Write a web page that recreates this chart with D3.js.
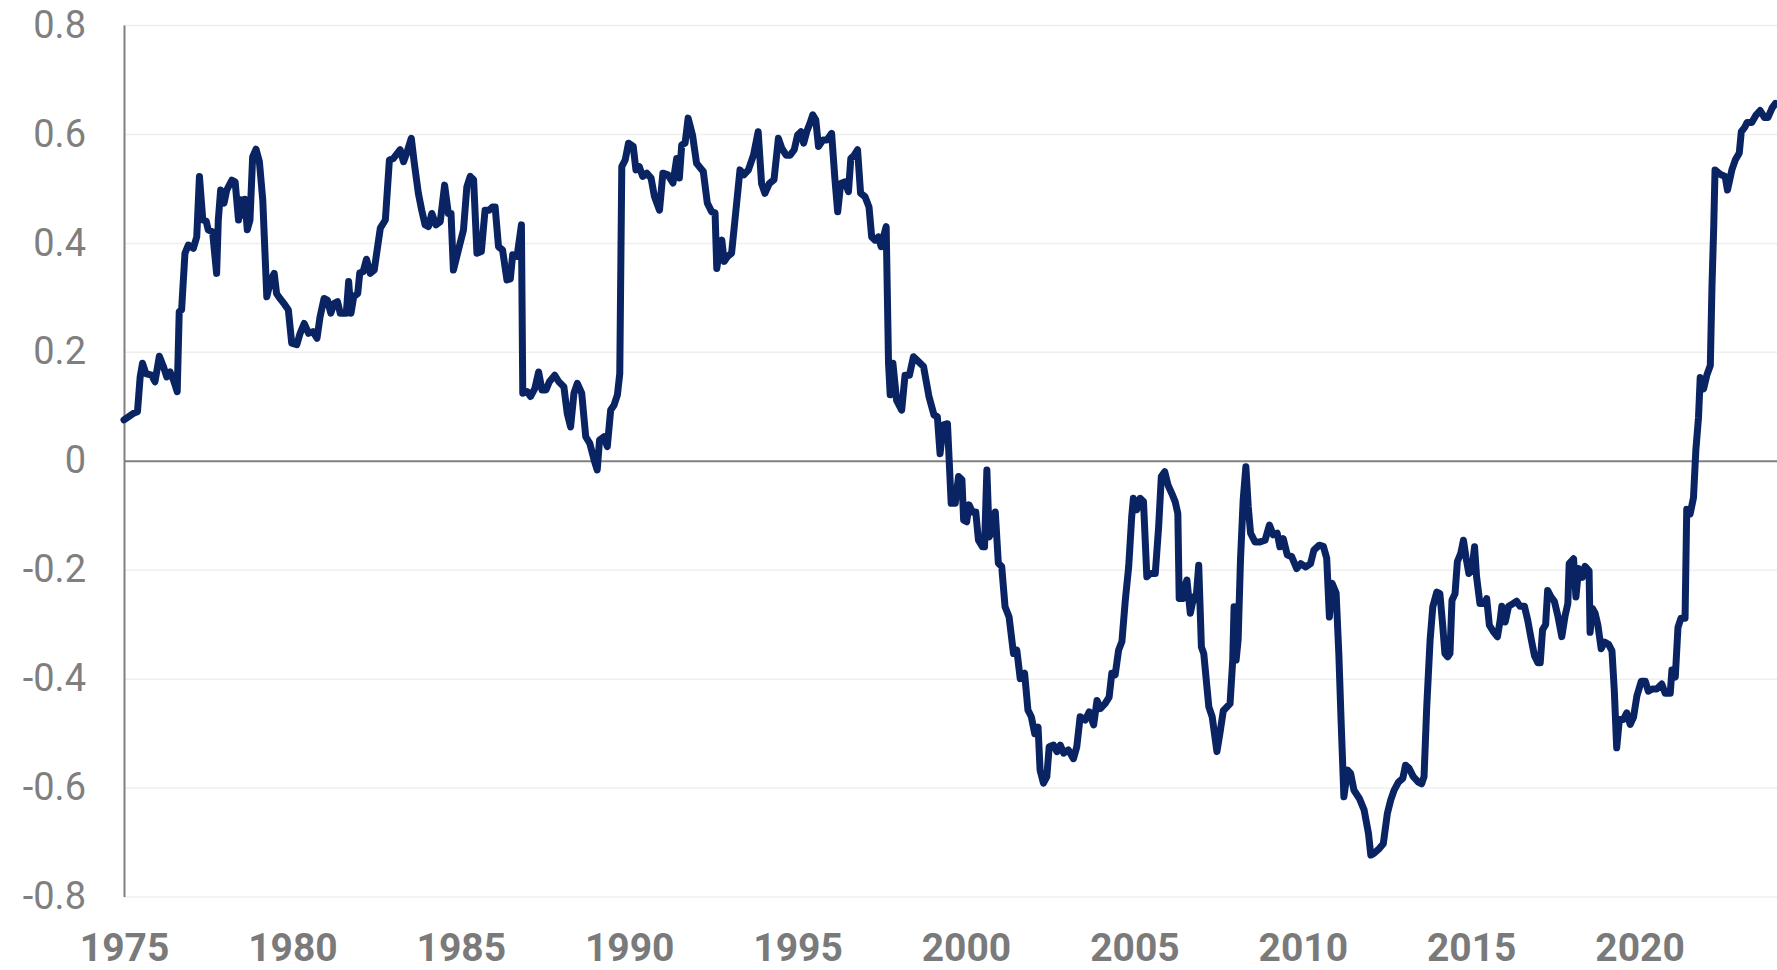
<!DOCTYPE html>
<html>
<head>
<meta charset="utf-8">
<script src="https://cdn.jsdelivr.net/npm/d3@7"></script>
<style>
    body { margin: 0; background: #ffffff; }
    svg { display: block; }
</style>
</head>
<body>
<svg id="chart"></svg>
<script>
var chartWidth = 1777,
    chartHeight = 970,
    plotLeft = 124,
    plotRight = 1777,
    plotTop = 25,
    plotBottom = 896.5;

// tick labels
var yearTicks = [1975, 1980, 1985, 1990, 1995, 2000, 2005, 2010, 2015, 2020];
var valueTicks = [-0.8, -0.6, -0.4, -0.2, 0, 0.2, 0.4, 0.6, 0.8];

// [year, value], one array per decade
var data1970s = [
    [1975.00, 0.075], [1975.28, 0.087], [1975.40, 0.090], [1975.48, 0.154], [1975.55, 0.179],
    [1975.65, 0.160], [1975.82, 0.157], [1975.92, 0.145], [1976.05, 0.192], [1976.17, 0.173],
    [1976.27, 0.154], [1976.37, 0.163], [1976.47, 0.148], [1976.58, 0.127], [1976.64, 0.274],
    [1976.71, 0.277], [1976.81, 0.381], [1976.91, 0.396], [1977.06, 0.390], [1977.16, 0.411],
    [1977.24, 0.522], [1977.34, 0.442], [1977.44, 0.440], [1977.50, 0.424], [1977.63, 0.420],
    [1977.75, 0.344], [1977.80, 0.442], [1977.87, 0.497], [1977.97, 0.473], [1978.05, 0.497],
    [1978.20, 0.515], [1978.30, 0.512], [1978.40, 0.442], [1978.47, 0.479], [1978.55, 0.451],
    [1978.59, 0.480], [1978.66, 0.424], [1978.74, 0.442], [1978.82, 0.558], [1978.92, 0.572],
    [1979.02, 0.549], [1979.12, 0.479], [1979.24, 0.301], [1979.36, 0.332], [1979.46, 0.344],
    [1979.53, 0.307], [1979.63, 0.298], [1979.78, 0.286], [1979.88, 0.277], [1979.98, 0.216]
];

var data1980s = [
    [1980.13, 0.213], [1980.23, 0.234], [1980.35, 0.252], [1980.48, 0.234], [1980.61, 0.237],
    [1980.73, 0.225], [1980.82, 0.264], [1980.94, 0.298], [1981.04, 0.295], [1981.14, 0.271],
    [1981.24, 0.289], [1981.34, 0.292], [1981.42, 0.271], [1981.52, 0.271], [1981.60, 0.271],
    [1981.67, 0.329], [1981.74, 0.271], [1981.82, 0.301], [1981.94, 0.307], [1982.00, 0.345],
    [1982.10, 0.347], [1982.20, 0.370], [1982.31, 0.344], [1982.43, 0.350], [1982.53, 0.393],
    [1982.61, 0.427], [1982.76, 0.442], [1982.88, 0.552], [1983.00, 0.555], [1983.20, 0.571],
    [1983.30, 0.549], [1983.40, 0.566], [1983.53, 0.592], [1983.62, 0.546], [1983.74, 0.491],
    [1983.84, 0.460], [1983.94, 0.433], [1984.04, 0.430], [1984.14, 0.454], [1984.26, 0.433],
    [1984.39, 0.439], [1984.52, 0.506], [1984.63, 0.454], [1984.71, 0.454], [1984.78, 0.350],
    [1984.93, 0.387], [1985.08, 0.424], [1985.18, 0.503], [1985.28, 0.522], [1985.38, 0.516],
    [1985.48, 0.381], [1985.61, 0.384], [1985.72, 0.460], [1985.84, 0.460], [1985.94, 0.466],
    [1986.02, 0.466], [1986.12, 0.393], [1986.24, 0.387], [1986.37, 0.332], [1986.47, 0.334],
    [1986.54, 0.378], [1986.67, 0.375], [1986.80, 0.433], [1986.84, 0.124], [1986.97, 0.127],
    [1987.07, 0.118], [1987.20, 0.133], [1987.31, 0.163], [1987.41, 0.130], [1987.53, 0.130],
    [1987.63, 0.145], [1987.79, 0.157], [1987.91, 0.145], [1988.06, 0.136], [1988.16, 0.087],
    [1988.26, 0.062], [1988.36, 0.124], [1988.46, 0.142], [1988.59, 0.124], [1988.71, 0.044],
    [1988.83, 0.032], [1988.96, 0.001], [1989.05, -0.017], [1989.12, 0.038], [1989.25, 0.044],
    [1989.35, 0.026], [1989.45, 0.093], [1989.55, 0.102], [1989.65, 0.121], [1989.72, 0.160],
    [1989.78, 0.540], [1989.88, 0.552], [1989.98, 0.583]
];

var data1990s = [
    [1990.12, 0.577], [1990.20, 0.534], [1990.30, 0.540], [1990.40, 0.522], [1990.52, 0.528],
    [1990.65, 0.519], [1990.75, 0.485], [1990.90, 0.460], [1991.00, 0.528], [1991.15, 0.525],
    [1991.30, 0.510], [1991.41, 0.555], [1991.49, 0.519], [1991.56, 0.580], [1991.66, 0.583],
    [1991.75, 0.629], [1991.88, 0.598], [1992.00, 0.546], [1992.12, 0.537], [1992.20, 0.531],
    [1992.32, 0.473], [1992.45, 0.457], [1992.55, 0.455], [1992.60, 0.353], [1992.68, 0.387],
    [1992.75, 0.405], [1992.82, 0.366], [1992.92, 0.375], [1993.04, 0.381], [1993.14, 0.442],
    [1993.29, 0.534], [1993.41, 0.525], [1993.54, 0.534], [1993.69, 0.561], [1993.83, 0.604],
    [1993.93, 0.509], [1994.03, 0.491], [1994.16, 0.509], [1994.30, 0.516], [1994.43, 0.592],
    [1994.53, 0.574], [1994.66, 0.561], [1994.78, 0.561], [1994.90, 0.571], [1995.00, 0.598],
    [1995.10, 0.604], [1995.18, 0.583], [1995.27, 0.604], [1995.37, 0.620], [1995.45, 0.635],
    [1995.54, 0.626], [1995.62, 0.577], [1995.75, 0.589], [1995.87, 0.589], [1996.01, 0.601],
    [1996.11, 0.516], [1996.19, 0.457], [1996.28, 0.509], [1996.41, 0.512], [1996.51, 0.494],
    [1996.58, 0.555], [1996.68, 0.561], [1996.78, 0.571], [1996.87, 0.491], [1997.00, 0.485],
    [1997.12, 0.466], [1997.20, 0.411], [1997.30, 0.405], [1997.40, 0.411], [1997.48, 0.393],
    [1997.55, 0.411], [1997.63, 0.430], [1997.70, 0.179], [1997.75, 0.121], [1997.83, 0.179],
    [1997.94, 0.111], [1998.09, 0.093], [1998.19, 0.157], [1998.32, 0.157], [1998.44, 0.191],
    [1998.59, 0.182], [1998.74, 0.173], [1998.90, 0.118], [1999.05, 0.084], [1999.15, 0.081],
    [1999.23, 0.013], [1999.33, 0.066], [1999.45, 0.068], [1999.56, -0.078], [1999.68, -0.078],
    [1999.78, -0.029], [1999.88, -0.035], [1999.93, -0.109]
];

var data2000s = [
    [2000.02, -0.112], [2000.09, -0.081], [2000.19, -0.094], [2000.29, -0.094], [2000.37, -0.146],
    [2000.49, -0.158], [2000.55, -0.158], [2000.62, -0.017], [2000.69, -0.140], [2000.77, -0.128],
    [2000.87, -0.094], [2000.96, -0.188], [2001.06, -0.194], [2001.16, -0.268], [2001.28, -0.287],
    [2001.41, -0.354], [2001.51, -0.348], [2001.61, -0.400], [2001.74, -0.390], [2001.84, -0.458],
    [2001.94, -0.470], [2002.04, -0.501], [2002.14, -0.489], [2002.20, -0.568], [2002.30, -0.592],
    [2002.40, -0.580], [2002.47, -0.525], [2002.60, -0.522], [2002.70, -0.534], [2002.80, -0.522],
    [2002.90, -0.537], [2003.04, -0.531], [2003.19, -0.547], [2003.29, -0.525], [2003.39, -0.470],
    [2003.54, -0.476], [2003.66, -0.461], [2003.79, -0.485], [2003.89, -0.440], [2003.99, -0.455],
    [2004.13, -0.446], [2004.25, -0.434], [2004.33, -0.390], [2004.43, -0.393], [2004.53, -0.348],
    [2004.63, -0.332], [2004.73, -0.256], [2004.83, -0.195], [2004.92, -0.103], [2004.97, -0.069],
    [2005.07, -0.090], [2005.17, -0.069], [2005.27, -0.075], [2005.37, -0.213], [2005.47, -0.207],
    [2005.62, -0.207], [2005.72, -0.121], [2005.80, -0.029], [2005.90, -0.020], [2006.00, -0.045],
    [2006.11, -0.060], [2006.21, -0.075], [2006.29, -0.097], [2006.33, -0.253], [2006.43, -0.253],
    [2006.49, -0.231], [2006.56, -0.219], [2006.66, -0.280], [2006.76, -0.250], [2006.83, -0.255],
    [2006.91, -0.192], [2006.99, -0.342], [2007.06, -0.354], [2007.21, -0.452], [2007.31, -0.470],
    [2007.45, -0.534], [2007.54, -0.500], [2007.64, -0.459], [2007.84, -0.446], [2007.92, -0.366],
    [2007.96, -0.268], [2008.02, -0.366], [2008.08, -0.329], [2008.15, -0.182], [2008.23, -0.072],
    [2008.31, -0.011], [2008.38, -0.084], [2008.45, -0.133], [2008.58, -0.149], [2008.73, -0.149],
    [2008.88, -0.146], [2009.01, -0.118], [2009.12, -0.136], [2009.24, -0.133], [2009.32, -0.158],
    [2009.42, -0.143], [2009.54, -0.173], [2009.67, -0.176], [2009.82, -0.198], [2009.94, -0.189]
];

var data2010s = [
    [2010.09, -0.195], [2010.23, -0.189], [2010.33, -0.164], [2010.49, -0.155], [2010.61, -0.157],
    [2010.71, -0.179], [2010.79, -0.287], [2010.87, -0.225], [2010.99, -0.243], [2011.07, -0.354],
    [2011.14, -0.482], [2011.22, -0.617], [2011.33, -0.568], [2011.42, -0.574], [2011.52, -0.605],
    [2011.68, -0.620], [2011.82, -0.641], [2011.95, -0.684], [2012.02, -0.724], [2012.11, -0.721],
    [2012.27, -0.712], [2012.39, -0.703], [2012.51, -0.648], [2012.61, -0.623], [2012.71, -0.605],
    [2012.84, -0.590], [2012.97, -0.583], [2013.05, -0.559], [2013.16, -0.565], [2013.28, -0.580],
    [2013.43, -0.590], [2013.53, -0.593], [2013.60, -0.580], [2013.68, -0.452], [2013.78, -0.329],
    [2013.86, -0.268], [2013.98, -0.241], [2014.07, -0.244], [2014.15, -0.299], [2014.22, -0.354],
    [2014.30, -0.360], [2014.37, -0.354], [2014.43, -0.256], [2014.52, -0.244], [2014.59, -0.185],
    [2014.69, -0.170], [2014.77, -0.146], [2014.85, -0.179], [2014.93, -0.207], [2015.02, -0.200],
    [2015.10, -0.158], [2015.16, -0.213], [2015.26, -0.262], [2015.41, -0.262], [2015.46, -0.253],
    [2015.54, -0.302], [2015.66, -0.314], [2015.78, -0.323], [2015.86, -0.293], [2015.91, -0.267],
    [2016.01, -0.296], [2016.11, -0.267], [2016.25, -0.262], [2016.35, -0.258], [2016.45, -0.267],
    [2016.58, -0.267], [2016.68, -0.293], [2016.78, -0.327], [2016.88, -0.358], [2016.98, -0.371],
    [2017.05, -0.371], [2017.12, -0.310], [2017.21, -0.301], [2017.27, -0.238], [2017.37, -0.250],
    [2017.47, -0.258], [2017.57, -0.284], [2017.69, -0.323], [2017.79, -0.284], [2017.87, -0.262],
    [2017.91, -0.189], [2018.04, -0.180], [2018.11, -0.250], [2018.19, -0.198], [2018.30, -0.214],
    [2018.38, -0.194], [2018.50, -0.202], [2018.53, -0.315], [2018.60, -0.271], [2018.68, -0.280],
    [2018.76, -0.301], [2018.86, -0.345], [2018.96, -0.333], [2019.08, -0.337], [2019.18, -0.349],
    [2019.25, -0.423], [2019.32, -0.527], [2019.40, -0.475], [2019.52, -0.475], [2019.62, -0.463],
    [2019.72, -0.484], [2019.82, -0.471], [2019.92, -0.432]
];

var data2020s = [
    [2020.05, -0.405], [2020.17, -0.405], [2020.26, -0.423], [2020.38, -0.419], [2020.51, -0.419],
    [2020.66, -0.410], [2020.76, -0.427], [2020.91, -0.427], [2020.96, -0.384], [2021.06, -0.397],
    [2021.14, -0.306], [2021.23, -0.289], [2021.35, -0.289], [2021.40, -0.089], [2021.50, -0.098],
    [2021.60, -0.068], [2021.67, 0.019], [2021.75, 0.080], [2021.80, 0.153], [2021.90, 0.132],
    [2022.00, 0.158], [2022.10, 0.175], [2022.15, 0.322], [2022.20, 0.426], [2022.24, 0.534],
    [2022.39, 0.526], [2022.54, 0.522], [2022.61, 0.497], [2022.74, 0.534], [2022.84, 0.552],
    [2022.96, 0.565], [2023.02, 0.604], [2023.12, 0.612], [2023.19, 0.621], [2023.33, 0.621],
    [2023.45, 0.634], [2023.58, 0.643], [2023.71, 0.630], [2023.81, 0.630], [2023.93, 0.647],
    [2024.03, 0.656]
];

var series = [].concat(data1970s, data1980s, data1990s, data2000s, data2010s, data2020s);

var svgChart = d3.select('svg#chart')
    .attr('width', chartWidth)
    .attr('height', chartHeight);

var xScale = d3.scaleLinear()
    .domain([1975, 2024.08])
    .range([plotLeft, plotRight]);

var yScale = d3.scaleLinear()
    .domain([-0.8, 0.8])
    .range([plotBottom, plotTop]);

drawValueAxis();
drawYearAxis();
drawSeries(series);

function drawValueAxis() {
    var axis = d3.axisLeft(yScale)
        .tickValues(valueTicks)
        .tickSize(-(plotRight - plotLeft))
        .tickSizeOuter(0)
        .tickPadding(38)
        .tickFormat(function(d) { return d === 0 ? '0' : d.toFixed(1); });

    var g = svgChart.append('g')
        .attr('transform', 'translate(' + plotLeft + ',0)')
        .call(axis);

    g.selectAll('.tick line')
        .attr('stroke', function(d) { return d === 0 ? '#808080' : '#efefef'; })
        .attr('stroke-width', function(d) { return d === 0 ? 2 : 1.5; });

    g.select('.domain')
        .attr('stroke', '#808080')
        .attr('stroke-width', 2);
    g.select('.domain').raise();

    g.selectAll('.tick text')
        .attr('fill', '#7f7f7f')
        .attr('font-family', 'Roboto, Arial, sans-serif')
        .attr('font-size', '38px');
}

function drawYearAxis() {
    var axis = d3.axisBottom(xScale)
        .tickValues(yearTicks)
        .tickSize(0)
        .tickPadding(37)
        .tickFormat(d3.format('d'));

    var g = svgChart.append('g')
        .attr('transform', 'translate(0,' + plotBottom + ')')
        .call(axis);

    g.select('.domain').remove();

    g.selectAll('.tick text')
        .attr('fill', '#7a7a7a')
        .attr('font-family', 'Roboto, Arial, sans-serif')
        .attr('font-weight', 'bold')
        .attr('font-size', '39px');
}

function drawSeries(points) {
    var line = d3.line()
        .x(function(d) { return xScale(d[0]); })
        .y(function(d) { return yScale(d[1]); });

    svgChart.append('path')
        .datum(points)
        .attr('d', line)
        .attr('fill', 'none')
        .attr('stroke', '#0a2463')
        .attr('stroke-width', 7)
        .attr('stroke-linejoin', 'round')
        .attr('stroke-linecap', 'round');
}
</script>
</body>
</html>
